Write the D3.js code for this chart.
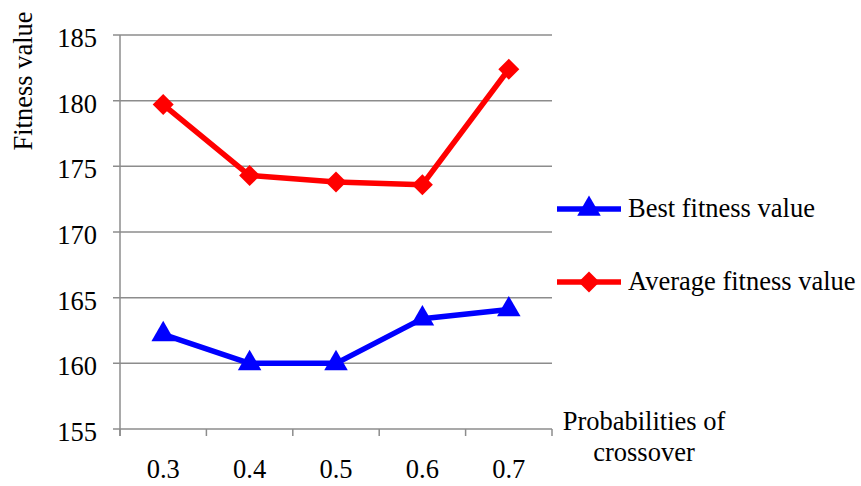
<!DOCTYPE html>
<html>
<head>
<meta charset="utf-8">
<script src="https://cdn.jsdelivr.net/npm/d3@7"></script>
<style>
  html, body { margin: 0; padding: 0; background: #fff; }
  svg { display: block; }
</style>
</head>
<body>
<svg id="chart" width="861" height="486"></svg>
<script>
// Crossover probability experiment
const categories = ["0.3", "0.4", "0.5", "0.6", "0.7"];
const bestFitness = [162.2, 160.0, 160.0, 163.4, 164.1];
const averageFitness = [179.7, 174.3, 173.8, 173.6, 182.4];
const yTicks = [155, 160, 165, 170, 175, 180, 185];
const seriesNames = ["Best fitness value", "Average fitness value"];

const svg = d3.select("#chart")
  .attr("font-family", "'Liberation Serif', 'Times New Roman', serif");
const plot = { left: 120, right: 552, top: 35, bottom: 429 };
const gridColor = "#8c8c8c";
const fontSize = 26.5;

const x = d3.scaleBand().domain(categories).range([plot.left, plot.right]);
const cx = c => x(c) + x.bandwidth() / 2;
const y = d3.scaleLinear().domain([155, 185]).range([plot.bottom, plot.top]);

// horizontal gridlines (extend left to form tick marks)
svg.append("g").selectAll("line").data(yTicks).join("line")
  .attr("x1", plot.left - 7).attr("x2", plot.right)
  .attr("y1", d => y(d)).attr("y2", d => y(d))
  .attr("stroke", gridColor).attr("stroke-width", 1.5);

// y tick labels
svg.append("g").selectAll("text").data(yTicks).join("text")
  .attr("x", 97).attr("y", d => y(d) + 12)
  .attr("text-anchor", "end").attr("font-size", fontSize)
  .text(d => d);

// vertical axis line
svg.append("line")
  .attr("x1", plot.left).attr("x2", plot.left)
  .attr("y1", plot.top).attr("y2", plot.bottom + 7)
  .attr("stroke", gridColor).attr("stroke-width", 1.5);

// x tick marks at category boundaries
const boundaries = categories.map(c => x(c)).concat([plot.right]);
svg.append("g").selectAll("line").data(boundaries).join("line")
  .attr("x1", d => d).attr("x2", d => d)
  .attr("y1", plot.bottom).attr("y2", plot.bottom + 7)
  .attr("stroke", gridColor).attr("stroke-width", 1.5);

// x tick labels
svg.append("g").selectAll("text").data(categories).join("text")
  .attr("x", d => cx(d)).attr("y", 478)
  .attr("text-anchor", "middle").attr("font-size", fontSize)
  .text(d => d);

// axis titles
svg.append("text")
  .attr("transform", "translate(32,81) rotate(-90)")
  .attr("text-anchor", "middle").attr("font-size", fontSize)
  .text("Fitness value");

const xTitle = svg.append("text")
  .attr("text-anchor", "middle").attr("font-size", fontSize);
xTitle.append("tspan").attr("x", 644).attr("y", 430).text("Probabilities of");
xTitle.append("tspan").attr("x", 644).attr("y", 461).text("crossover");

// series
const line = d3.line().x((d, i) => cx(categories[i])).y(d => y(d));
const triangle = d3.symbol().type(d3.symbolTriangle).size(240)();
const diamond = "M0,-10.5L10.5,0L0,10.5L-10.5,0Z";

function drawSeries(values, color, marker) {
  const g = svg.append("g");
  g.append("path").datum(values)
    .attr("d", line).attr("fill", "none")
    .attr("stroke", color).attr("stroke-width", 5.5)
    .attr("stroke-linejoin", "round");
  g.selectAll("path.m").data(values).join("path")
    .attr("class", "m")
    .attr("transform", (d, i) => `translate(${cx(categories[i])},${y(d)})`)
    .attr("d", marker).attr("fill", color);
}

drawSeries(averageFitness, "#ff0000", diamond);
drawSeries(bestFitness, "#0000ff", triangle);

// legend
const legend = [
  { name: seriesNames[0], color: "#0000ff", marker: triangle, y: 209 },
  { name: seriesNames[1], color: "#ff0000", marker: diamond, y: 282 }
];
const lg = svg.append("g").selectAll("g").data(legend).join("g");
lg.append("line")
  .attr("x1", 557).attr("x2", 621)
  .attr("y1", d => d.y).attr("y2", d => d.y)
  .attr("stroke", d => d.color).attr("stroke-width", 5.5);
lg.append("path")
  .attr("transform", d => `translate(589,${d.y})`)
  .attr("d", d => d.marker).attr("fill", d => d.color);
lg.append("text")
  .attr("x", 628).attr("y", d => d.y + 8)
  .attr("font-size", fontSize)
  .text(d => d.name);
</script>
</body>
</html>
